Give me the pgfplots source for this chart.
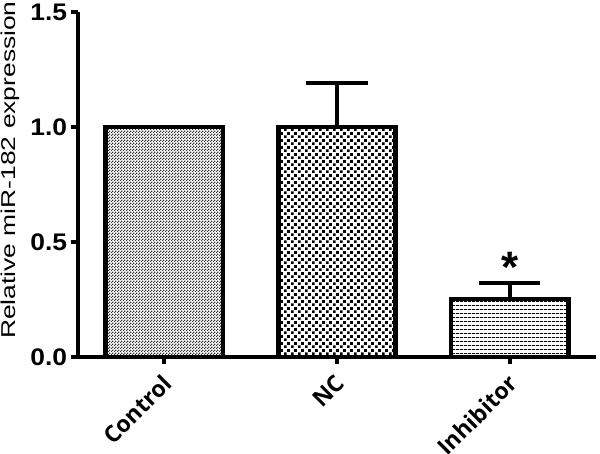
\documentclass[border=0pt]{standalone}
\usepackage{fontspec}
\setmainfont{Liberation Sans}
\newfontfamily\xfont{Open Sans}
\usepackage{pgfplots}
\pgfplotsset{compat=1.18}
\usetikzlibrary{patterns.meta}
\pgfdeclarepattern{
  name=finecheck, type=uncolored,
  bottom left={\pgfpoint{0pt}{0pt}}, top right={\pgfpoint{3pt}{3pt}},
  tile size={\pgfpoint{3pt}{3pt}},
  code={\pgfpathrectangle{\pgfpointorigin}{\pgfpoint{1.5pt}{1.5pt}}\pgfpathrectangle{\pgfpoint{1.5pt}{1.5pt}}{\pgfpoint{1.5pt}{1.5pt}}\pgfusepath{fill}}}
\pgfdeclarepattern{
  name=coarsedots, type=uncolored,
  bottom left={\pgfpoint{0pt}{0pt}}, top right={\pgfpoint{6.6pt}{6.6pt}},
  tile size={\pgfpoint{6.6pt}{6.6pt}},
  code={\pgfpathrectangle{\pgfpointorigin}{\pgfpoint{2.8pt}{2.8pt}}\pgfpathrectangle{\pgfpoint{3.3pt}{3.3pt}}{\pgfpoint{2.8pt}{2.8pt}}\pgfusepath{fill}}}
\pgfdeclarepattern{
  name=hlines, type=uncolored,
  bottom left={\pgfpoint{0pt}{0pt}}, top right={\pgfpoint{4pt}{4.2pt}},
  tile size={\pgfpoint{4pt}{4.2pt}},
  code={\pgfpathrectangle{\pgfpointorigin}{\pgfpoint{4pt}{1.1pt}}\pgfusepath{fill}}}
\begin{document}
\begin{tikzpicture}
\begin{axis}[
  scale only axis, width=518pt, height=345pt,
  xmin=-0.5, xmax=2.5, ymin=0, ymax=1.5,
  axis x line*=bottom, axis y line*=left,
  axis line style={line width=4pt, black},
  xtick={0,1,2}, xticklabels={Control,NC,Inhibitor},
  ytick={0,0.5,1,1.5},
  tick align=outside, major tick length=7pt,
  tick style={line width=4pt, black},
  /pgf/number format/assume math mode=true,
  /pgf/number format/.cd, fixed, fixed zerofill, precision=1, /pgfplots/.cd,
  yticklabel style={font=\fontsize{24}{24}\selectfont\bfseries, xscale=1.1},
  xticklabel style={font=\fontsize{23}{23}\selectfont\xfont\bfseries, xshift=-3pt, yshift=-4pt, rotate=45, anchor=north east},
  ylabel={\scalebox{1.32}[1]{Relative miR-182 expression}},
  ylabel style={font=\fontsize{20}{20}\selectfont, at={(axis description cs:-0.131,0.542)}, anchor=center},
  ybar, bar width=0.68, bar shift=0pt,
  clip=false,
  error bars/error bar style={line width=4pt, black},
  error bars/error mark=-,
  error bars/error mark options={line width=4pt, black, mark size=30.5pt, rotate=90},
]
\addplot[draw=black, line width=4.5pt, pattern={finecheck}, pattern color=black!80] coordinates {(0,1.0)};
\addplot[draw=black, line width=4.5pt, pattern={coarsedots}, pattern color=black,
  error bars/.cd, y dir=plus, y explicit] coordinates {(1,1.0) +- (0,0.19)};
\addplot[draw=black, line width=4.5pt, pattern={hlines}, pattern color=black,
  error bars/.cd, y dir=plus, y explicit] coordinates {(2,0.252) +- (0,0.068)};
\node[font=\fontsize{44}{44}\selectfont\bfseries] at (axis cs:2,0.39) {*};
\end{axis}
\pgfresetboundingbox
\path[use as bounding box] (-78pt,-97pt) rectangle (522pt,357pt);
\end{tikzpicture}
\end{document}
